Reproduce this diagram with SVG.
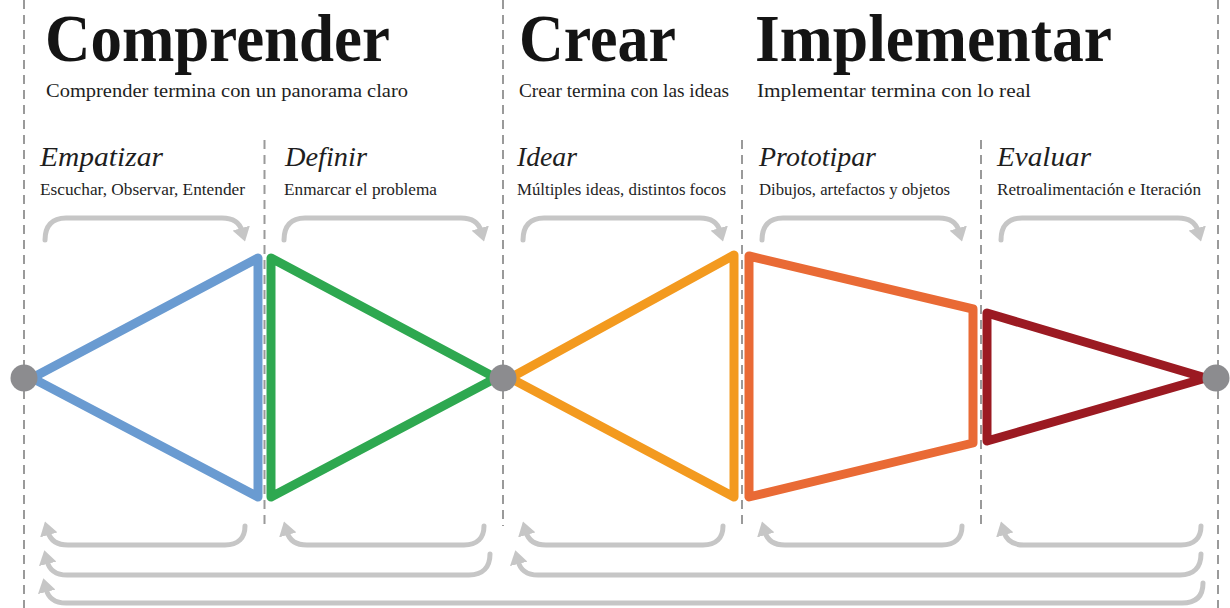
<svg xmlns="http://www.w3.org/2000/svg" width="1230" height="608" viewBox="0 0 1230 608">
<style>
.bg{fill:#ffffff}
.dash{stroke:#9a9a9a;stroke-width:2;stroke-dasharray:9 6;fill:none}
.big{font-family:"Liberation Serif","Times New Roman",serif;font-weight:bold;font-size:68px;fill:#141414}
.sub{font-family:"Liberation Serif","Times New Roman",serif;font-size:19px;fill:#1e1e1e}
.ph{font-family:"Liberation Serif","Times New Roman",serif;font-style:italic;font-size:28px;fill:#1e1e1e}
.desc{font-family:"Liberation Serif","Times New Roman",serif;font-size:16px;fill:#1e1e1e}
.shape{fill:none;stroke-width:9;stroke-linejoin:round;stroke-linecap:round}
.arr{fill:none;stroke:#c6c6c6;stroke-width:5;stroke-linecap:round;marker-end:url(#ah)}
.dot{fill:#8c8c8f}
</style>
<defs>
<marker id="ah" markerUnits="userSpaceOnUse" viewBox="0 0 14 18" markerWidth="14" markerHeight="18" refX="3" refY="9" orient="auto">
<path d="M0,0 L14,9 L0,18 z" fill="#c6c6c6"/>
</marker>
</defs>
<rect class="bg" x="0" y="0" width="1230" height="608"/>

<g id="guides">
<line class="dash" x1="24" y1="0" x2="24" y2="608"/>
<line class="dash" x1="264.5" y1="140" x2="264.5" y2="526"/>
<line class="dash" x1="503" y1="0" x2="503" y2="526"/>
<line class="dash" x1="742" y1="140" x2="742" y2="526"/>
<line class="dash" x1="981" y1="140" x2="981" y2="526"/>
<line class="dash" x1="1218" y1="0" x2="1218" y2="608"/>
</g>

<g id="header-comprender">
<text class="big" x="45" y="61" textLength="345" lengthAdjust="spacingAndGlyphs">Comprender</text>
<text class="sub" x="46" y="97" textLength="362" lengthAdjust="spacingAndGlyphs">Comprender termina con un panorama claro</text>
</g>
<g id="header-crear">
<text class="big" x="519" y="61" textLength="157" lengthAdjust="spacingAndGlyphs">Crear</text>
<text class="sub" x="519" y="97" textLength="210" lengthAdjust="spacingAndGlyphs">Crear termina con las ideas</text>
</g>
<g id="header-implementar">
<text class="big" x="755" y="61" textLength="357" lengthAdjust="spacingAndGlyphs">Implementar</text>
<text class="sub" x="757" y="97" textLength="274" lengthAdjust="spacingAndGlyphs">Implementar termina con lo real</text>
</g>

<g id="connectors">
<g id="top-arrows">
<path class="arr" d="M45,240 C45,226 52,218 66,218 L222,218 C234,218 240,224 242,231"/>
<path class="arr" transform="translate(239,0)" d="M45,240 C45,226 52,218 66,218 L222,218 C234,218 240,224 242,231"/>
<path class="arr" transform="translate(478,0)" d="M45,240 C45,226 52,218 66,218 L222,218 C234,218 240,224 242,231"/>
<path class="arr" transform="translate(717,0)" d="M45,240 C45,226 52,218 66,218 L222,218 C234,218 240,224 242,231"/>
<path class="arr" transform="translate(956,0)" d="M45,240 C45,226 52,218 66,218 L222,218 C234,218 240,224 242,231"/>
</g>
<g id="bottom-arrows">
<path class="arr" d="M245,526 C245,538 238,545 225,545 L68,545 C56,545 50,539 48,532"/>
<path class="arr" transform="translate(239,0)" d="M245,526 C245,538 238,545 225,545 L68,545 C56,545 50,539 48,532"/>
<path class="arr" transform="translate(478,0)" d="M245,526 C245,538 238,545 225,545 L68,545 C56,545 50,539 48,532"/>
<path class="arr" transform="translate(717,0)" d="M245,526 C245,538 238,545 225,545 L68,545 C56,545 50,539 48,532"/>
<path class="arr" transform="translate(956,0)" d="M245,526 C245,538 238,545 225,545 L68,545 C56,545 50,539 48,532"/>
<path class="arr" d="M490,554 C490,567 483,575 469,575 L67,575 C55,575 49,569 47,561"/>
<path class="arr" d="M1201,554 C1201,567 1194,575 1180,575 L538,575 C526,575 520,569 518,561"/>
<path class="arr" d="M1203,583 C1203,596 1196,603 1182,603 L66,603 C54,603 48,597 46,589"/>
</g>
</g>

<g id="empatizar">
<text class="ph" x="40" y="166" textLength="123" lengthAdjust="spacingAndGlyphs">Empatizar</text>
<text class="desc" x="40" y="195" textLength="205" lengthAdjust="spacingAndGlyphs">Escuchar, Observar, Entender</text>
<polygon class="shape" stroke="#6a9bd1" points="32,378 258,258 258,497"/>
</g>
<g id="definir">
<text class="ph" x="285" y="166" textLength="82" lengthAdjust="spacingAndGlyphs">Definir</text>
<text class="desc" x="284" y="195" textLength="153" lengthAdjust="spacingAndGlyphs">Enmarcar el problema</text>
<polygon class="shape" stroke="#2ea850" points="271,258 271,497 496,378"/>
</g>
<g id="idear">
<text class="ph" x="517" y="166" textLength="60" lengthAdjust="spacingAndGlyphs">Idear</text>
<text class="desc" x="517" y="195" textLength="209" lengthAdjust="spacingAndGlyphs">Múltiples ideas, distintos focos</text>
<polygon class="shape" stroke="#f39a1f" points="510,378 734,255 734,497"/>
</g>
<g id="prototipar">
<text class="ph" x="759" y="166" textLength="117" lengthAdjust="spacingAndGlyphs">Prototipar</text>
<text class="desc" x="759" y="195" textLength="191" lengthAdjust="spacingAndGlyphs">Dibujos, artefactos y objetos</text>
<polygon class="shape" stroke="#e96a35" points="749,256 973,309 973,443 749,497"/>
</g>
<g id="evaluar">
<text class="ph" x="997" y="166" textLength="94" lengthAdjust="spacingAndGlyphs">Evaluar</text>
<text class="desc" x="997" y="195" textLength="204" lengthAdjust="spacingAndGlyphs">Retroalimentación e Iteración</text>
<polygon class="shape" stroke="#9b1a22" points="987,313 987,441 1206,378"/>
</g>

<g id="node-start"><circle class="dot" cx="24" cy="378" r="13.5"/></g>
<g id="node-mid"><circle class="dot" cx="503" cy="378" r="13.5"/></g>
<g id="node-end"><circle class="dot" cx="1216" cy="378" r="13.5"/></g>
</svg>
